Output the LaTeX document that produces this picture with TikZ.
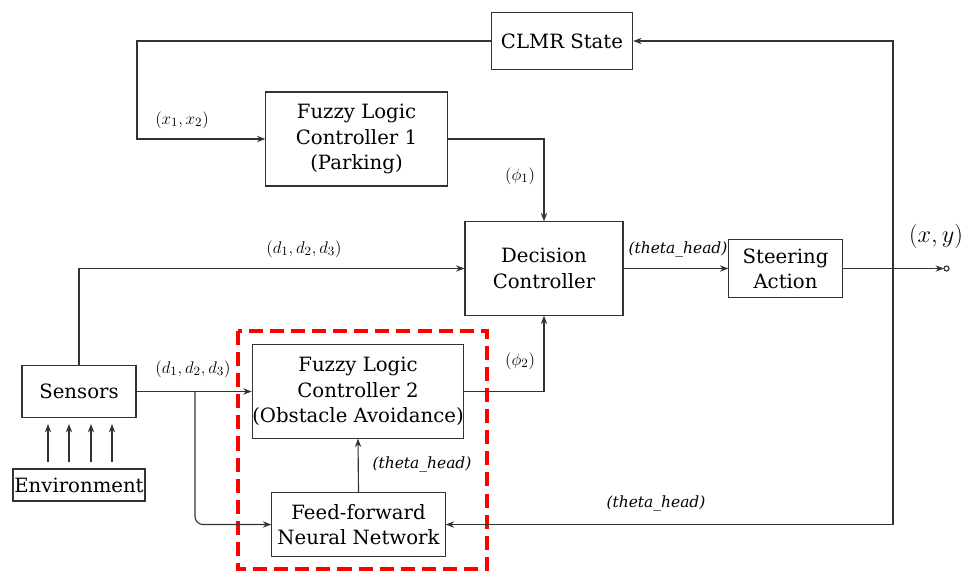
\documentclass[tikz,border=0pt]{standalone}
\usepackage{amsmath}
\usepackage{fontspec}
\setmainfont{DejaVu Serif}
\usetikzlibrary{arrows.meta}

\tikzset{
    block/.style={draw=black!80, line width=0.8pt, align=center, inner sep=0pt,
        font=\fontsize{14}{18}\selectfont},
    sig/.style={font=\fontsize{12.5}{14}\selectfont, inner sep=1pt},
    wire/.style={draw=black!80, line width=0.8pt, -{Stealth[length=6pt,width=4.5pt]}},
}

\begin{document}
\begin{tikzpicture}[x=0.025cm, y=-0.025cm]
\useasboundingbox (0,0) rectangle (978,571);

% Bloecke
\node[block, minimum width=3.53cm, minimum height=1.43cm] (clmr) at (562,41) {CLMR State};
\node[block, minimum width=4.53cm, minimum height=2.35cm] (flc1) at (356.5,139) {Fuzzy Logic\\Controller 1\\(Parking)};
\node[block, minimum width=3.95cm, minimum height=2.33cm] (dec) at (544,268.5) {Decision\\Controller};
\node[block, minimum width=2.83cm, minimum height=1.43cm] (steer) at (785.5,268.5) {Steering\\Action};
\node[block, minimum width=2.85cm, minimum height=1.28cm] (sens) at (79,391.5) {Sensors};
\node[block, minimum width=3.3cm, minimum height=0.8cm] (env) at (79,485) {Environment};
\node[block, minimum width=5.25cm, minimum height=2.33cm] (flc2) at (358,391.5) {Fuzzy Logic\\Controller 2\\(Obstacle Avoidance)};
\node[block, minimum width=4.33cm, minimum height=1.58cm] (ffnn) at (358.5,524.5) {Feed-forward\\Neural Network};

% rote Umrandung
\draw[red, line width=2.2pt, dash pattern=on 10pt off 5pt] (238,331) rectangle (487,569);

% Verbindungen
\coordinate (br) at (195,391.5);
\coordinate (fb) at (893,268.5);
\coordinate (out) at (944,268.5);
\draw[wire] (clmr.west) -- (137,41) |- (flc1.west);
\draw[wire] (flc1.east) -| (dec.north);
\draw[wire] (sens.north) |- (dec.west);
\draw[wire] (sens.east) -- (flc2.west);
\draw[wire, rounded corners=2mm] (br) |- (ffnn.west);
\draw[wire] (flc2.east) -| (dec.south);
\draw[wire] (ffnn.north) -- (flc2.south);
\draw[wire] (dec.east) -- (steer.west);
\draw[wire] (steer.east) -- (out);
\draw[black!80, line width=0.8pt] (out) ++(2.5,0) circle (2.5);
\draw[wire] (fb) |- (clmr.east);
\draw[wire] (fb) |- (ffnn.east);

% Umgebung -> Sensoren
\foreach \i in {48,69,91,112} {
    \draw[wire] (\i,462) -- (\i,424);
}

% Signale
\node[sig] (lx) at (182,120) {$(x_1,x_2)$};
\node[sig] (lphia) at (520,176) {$(\phi_1)$};
\node[sig] (ldtop) at (304,249) {$(d_1,d_2,d_3)$};
\node[sig] (ldbot) at (193,369) {$(d_1,d_2,d_3)$};
\node[sig] (lphib) at (520,361) {$(\phi_2)$};
\node[sig, font=\fontsize{11}{13}\selectfont\itshape] (lthin) at (422,464) {(theta\_head)};
\node[sig, font=\fontsize{11}{13}\selectfont\itshape] (lthdec) at (678,249) {(theta\_head)};
\node[sig, font=\fontsize{11}{13}\selectfont\itshape] (lthfb) at (656,503) {(theta\_head)};
\node[sig, font=\fontsize{16}{18}\selectfont] (lxy) at (936,236) {$(x,y)$};

\end{tikzpicture}
\end{document}
